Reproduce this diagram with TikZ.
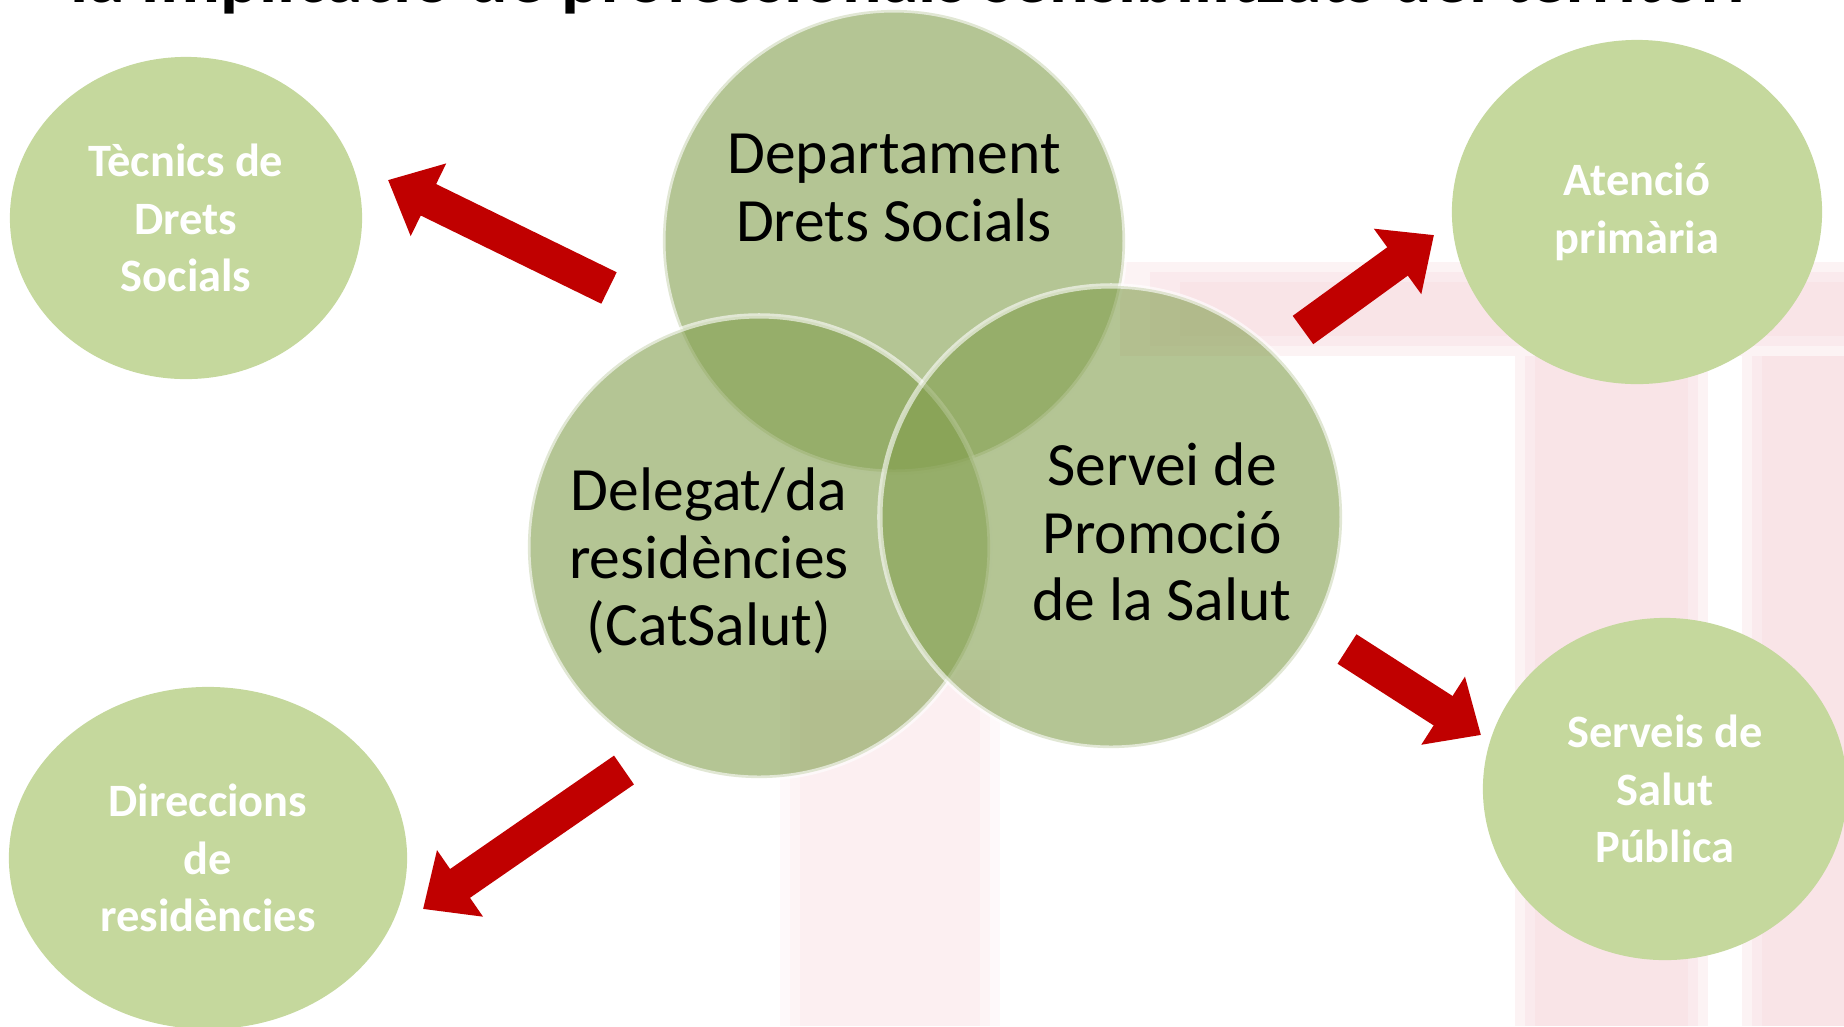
\documentclass[tikz,border=0pt]{standalone}
\usepackage{fontspec}
\setmainfont{Carlito}
\usepackage{tikz}
\usetikzlibrary{positioning, arrows.meta, shapes.geometric}
\definecolor{coregreen}{RGB}{130,158,77}
\definecolor{partnergreen}{RGB}{197,216,157}
\definecolor{arrowred}{RGB}{192,0,0}
\definecolor{pinkbg}{RGB}{246,214,219}
\tikzset{
x=0.01cm, y=-0.01cm, % one unit is one pixel of the slide, y grows downwards
core/.style={circle, minimum size=4.62cm, fill=coregreen, fill opacity=0.6, draw=white, draw opacity=0.6, line width=1.5pt}, % the three overlapping circles
coretext/.style={align=center, font=\fontsize{17.5}{19.2}\selectfont}, % black text inside them
partner/.style={ellipse, fill=partnergreen, align=center, text=white, font=\bfseries\fontsize{13.2}{16.4}\selectfont}, % the outer ellipses
bigarrow/.style={-{Triangle[length=0.45cm,width=0.78cm]}, line width=0.35cm, draw=arrowred}, % the red block arrows
haze/.style={fill=pinkbg, opacity=0.3}, % faded logo behind everything
}

\begin{document}
\begin{tikzpicture}
\useasboundingbox (0,0) rectangle (1844,1026);
% faded background of the slide, soft edges from stacked rectangles
\foreach \g in {0,10,20} {
\fill[haze] (1120+3*\g,262+\g) rectangle (1844,356-\g);
\fill[haze] (1515+\g,356) rectangle (1708-\g,1026);
\fill[haze] (1742+\g,356) rectangle (1844,1026);
\fill[haze, opacity=0.15] (780+\g,660+\g) rectangle (1000-\g,1026);
}
% title, cut by the top edge
\begin{scope}
\clip (0,0) rectangle (1844,1026);
\node[anchor=base, font=\bfseries\fontsize{21}{25}\selectfont] (title) at (908,2) {la implicació de professionals sensibilitzats del territori};
\end{scope}
\node[core] (dep) at (894,241) {};
\node[core] (del) at (759,547) {};
\node[core] (ser) at (1111,517) {};
\node[coretext] (deptext) at (894,188) {Departament\\Drets Socials};
\node[coretext] (deltext) at (709,561) {Delegat/da\\residències\\(CatSalut)};
\node[coretext] (sertext) at (1162,532) {Servei de\\Promoció\\de la Salut};
\node[partner, minimum width=3.52cm, minimum height=3.22cm] (tec) at (186,218) {Tècnics de\\Drets\\Socials};
\node[partner, minimum width=3.98cm, minimum height=3.42cm] (dir) at (208,858) {Direccions\\de\\residències};
\node[partner, minimum width=3.70cm, minimum height=3.44cm] (ate) at (1637,212) {Atenció\\primària};
\node[partner, minimum width=3.64cm, minimum height=3.42cm] (sal) at (1665,789) {Serveis de\\Salut\\Pública};
\coordinate (tecfrom) at (609,288);
\coordinate (tecto) at (388,180);
\coordinate (dirfrom) at (624,770);
\coordinate (dirto) at (423,909);
\coordinate (atefrom) at (1303,330);
\coordinate (ateto) at (1434,235);
\coordinate (salfrom) at (1347,649);
\coordinate (salto) at (1481,735);
\draw
(tecfrom) edge[bigarrow] (tecto)
(dirfrom) edge[bigarrow] (dirto)
(atefrom) edge[bigarrow] (ateto)
(salfrom) edge[bigarrow] (salto)
;
\end{tikzpicture}
\end{document}
